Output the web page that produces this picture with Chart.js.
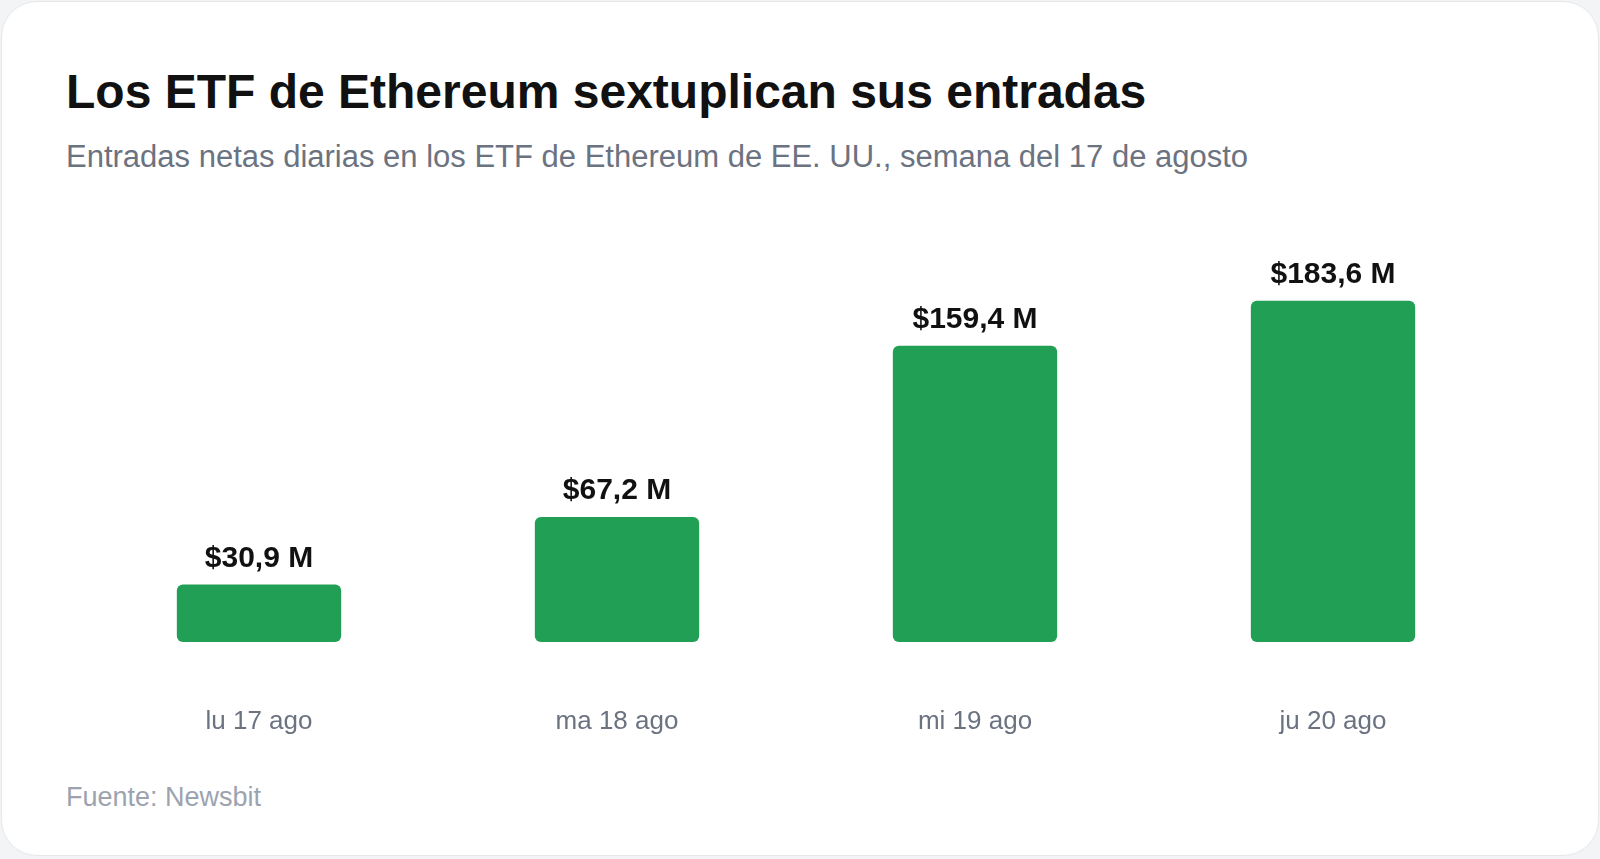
<!DOCTYPE html>
<html><head><meta charset="utf-8">
<script src="https://cdn.jsdelivr.net/npm/chart.js@4.4.1/dist/chart.umd.min.js"></script>
<style>
body{margin:0;background:#f3f4f6;font-family:"Liberation Sans",Arial,sans-serif;}
.card{position:absolute;left:1px;top:1px;width:1596px;height:853px;background:#fff;border:1px solid #e5e7eb;border-radius:36px;}
h1{position:absolute;left:64px;top:62px;margin:0;font-size:48px;font-weight:700;color:#111;}
.sub{position:absolute;left:64px;top:137px;font-size:31px;color:#6b7280;}
.src{position:absolute;left:64px;top:780px;font-size:27px;color:#9ca3af;}
#wrap{position:absolute;left:78px;top:231px;width:1432px;height:509px;}
</style></head><body>
<div class="card">
<h1>Los ETF de Ethereum sextuplican sus entradas</h1>
<div class="sub">Entradas netas diarias en los ETF de Ethereum de EE. UU., semana del 17 de agosto</div>
<div id="wrap"><canvas id="c"></canvas></div>
<div class="src">Fuente: Newsbit</div>
</div>
<script>
const categories=["lu 17 ago","ma 18 ago","mi 19 ago","ju 20 ago"];
const values=[30.9,67.2,159.4,183.6];
const labels=["$30,9 M","$67,2 M","$159,4 M","$183,6 M"];
const lbl={id:'lbl',afterDatasetsDraw(ch){const ctx=ch.ctx;ctx.save();ctx.font='bold 30px "Liberation Sans", Arial';ctx.fillStyle='#111';ctx.textAlign='center';ctx.textBaseline='bottom';
ch.getDatasetMeta(0).data.forEach((b,i)=>ctx.fillText(labels[i],b.x,b.y-11));ctx.restore();}};
new Chart(document.getElementById('c'),{type:'bar',data:{labels:categories,datasets:[{data:values,backgroundColor:'#21a055',borderRadius:6,borderSkipped:false,barPercentage:0.459,categoryPercentage:1}]},
options:{responsive:true,maintainAspectRatio:false,animation:false,layout:{padding:0},plugins:{legend:{display:false},tooltip:{enabled:false}},
scales:{y:{display:false,min:0,max:220},x:{afterFit:s=>{s.height=100;},grid:{display:false},border:{display:false},ticks:{color:'#6b7280',font:{size:26,family:'"Liberation Sans", Arial'},padding:56}}}},plugins:[lbl]});
</script></body></html>
